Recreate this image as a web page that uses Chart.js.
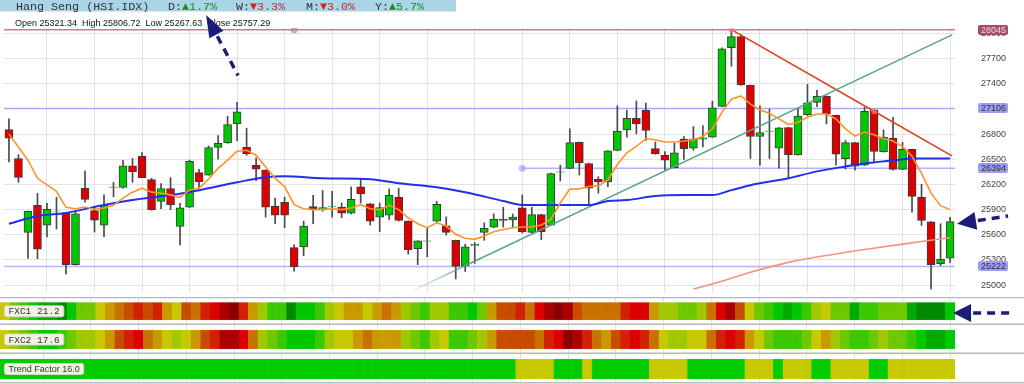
<!DOCTYPE html>
<html>
<head>
<meta charset="utf-8">
<script src="https://cdn.jsdelivr.net/npm/chart.js@4.4.1/dist/chart.umd.min.js"></script>
<style>
  html, body { margin: 0; padding: 0; background: #fff; }
  #wrap { position: relative; width: 1024px; height: 384px; overflow: hidden; }
  #main { position: absolute; left: 0; top: 0; }
  #strip { position: absolute; left: 0; top: 297px; }
</style>
</head>
<body>
<div id="wrap">
  <canvas id="main" width="1024" height="297"></canvas>
  <canvas id="strip" width="1024" height="87"></canvas>
</div>
<script>
/*
        Hang Seng daily candles with moving averages, trend lines,
    support / resistance levels and the FXC1 / FXC2 / Trend Factor strips.
*/

// Daily candles, oldest first
const opens = [26855, 26509, 25628, 25951, 25716, 25880, 25857, 25244, 26155, 25888,
    25716, 26165, 26164, 26423, 26536, 26258, 25999, 26152, 25699, 25928,
    26341, 26312, 26642, 26694, 26922, 26642, 26430, 26371, 25943, 25987,
    25448, 25456, 25935, 25900, 25933, 25931, 25857, 26171, 25970, 25810,
    25834, 26049, 25763, 25433, 25525, 25763, 25707, 25534, 25228, 25472,
    25628, 25692, 25786, 25778, 25920, 25628, 25841, 25716, 26346, 26391,
    26701, 26450, 26262, 26230, 26607, 26851, 26989, 27083, 26627, 26548,
    26399, 26741, 26631, 26741, 26765, 27130, 27830, 27963, 27382, 26772,
    26831, 26631, 26878, 26553, 27031, 27178, 27252, 27024, 26506, 26698,
    26430, 27090, 26588, 26753, 26379, 26619, 26049, 25755, 25256, 25321];
const highs = [26981, 26556, 25884, 26093, 25975, 26046, 25861, 25881, 26359, 25935,
    26076, 26226, 26489, 26509, 26580, 26273, 26211, 26282, 25975, 26489,
    26379, 26659, 26784, 27013, 27178, 26871, 26517, 26375, 26038, 26049,
    25480, 25763, 26069, 26128, 26117, 25979, 26171, 26262, 25975, 25979,
    26147, 26155, 25767, 25530, 25684, 25999, 25814, 25537, 25487, 25507,
    25743, 25849, 25928, 25849, 26076, 25928, 25845, 26336, 26430, 26863,
    26705, 26454, 26293, 26603, 27138, 27087, 27196, 27169, 26706, 26592,
    26694, 26772, 26890, 26902, 27193, 27830, 28045, 27983, 27385, 27138,
    27099, 26878, 26881, 27110, 27393, 27323, 27255, 27027, 26725, 26701,
    27119, 27093, 26851, 27001, 26701, 26622, 26203, 25758, 25731, 25807];
const lows = [26470, 26226, 25318, 25315, 25574, 25668, 25133, 25240, 25990, 25633,
    25578, 26053, 26155, 26226, 26280, 25893, 25911, 25900, 25480, 25925,
    26155, 26310, 26501, 26690, 26721, 26548, 26246, 25810, 25731, 25684,
    25165, 25350, 25731, 25881, 25810, 25802, 25849, 25979, 25716, 25637,
    25782, 25763, 25369, 25244, 25338, 25751, 25598, 25074, 25162, 25259,
    25534, 25684, 25692, 25692, 25621, 25621, 25542, 25712, 26241, 26388,
    26312, 25947, 26096, 26175, 26600, 26765, 26804, 26725, 26560, 26371,
    26396, 26497, 26607, 26647, 26762, 27127, 27609, 27380, 26509, 26427,
    26509, 26395, 26285, 26550, 27016, 27126, 26922, 26430, 26383, 26371,
    26427, 26470, 26585, 26371, 26376, 25869, 25711, 24956, 25232, 25268];
const closes = [26753, 26285, 25881, 25428, 25904, 25884, 25244, 25849, 26022, 25775,
    25951, 26169, 26423, 26352, 26282, 25900, 26152, 25959, 25920, 26477,
    26234, 26639, 26690, 26914, 27067, 26568, 26383, 25928, 25834, 25834,
    25220, 25704, 25904, 25923, 25937, 25857, 26022, 26088, 25763, 25923,
    26069, 25770, 25424, 25527, 25529, 25963, 25628, 25224, 25456, 25487,
    25676, 25786, 25770, 25810, 25637, 25841, 25637, 26329, 26350, 26698,
    26458, 26155, 26230, 26600, 26836, 26989, 26922, 26843, 26568, 26489,
    26576, 26627, 26741, 26757, 27114, 27818, 27963, 27385, 26772, 26819,
    26835, 26875, 26556, 27016, 27173, 27252, 27040, 26560, 26698, 26418,
    27072, 26595, 26765, 26379, 26619, 26058, 25770, 25244, 25310, 25757];

// Short moving average (orange), one value per candle
const maFast = [26800, 26647, 26489, 26273, 26194, 26117, 25928, 25911, 25931, 25904,
    25920, 25951, 26038, 26108, 26155, 26108, 26096, 26076, 26046, 26135,
    26155, 26265, 26391, 26489, 26595, 26607, 26548, 26411, 26273, 26175,
    25959, 25911, 25900, 25900, 25911, 25900, 25920, 25959, 25911, 25900,
    25951, 25900, 25802, 25731, 25684, 25743, 25704, 25605, 25558, 25546,
    25586, 25637, 25664, 25684, 25692, 25692, 25716, 25782, 25979, 26144,
    26147, 26175, 26183, 26253, 26438, 26576, 26654, 26745, 26733, 26706,
    26706, 26718, 26733, 26772, 26863, 27060, 27217, 27255, 27158, 27087,
    27048, 26981, 26914, 26942, 27001, 27040, 27040, 26981, 26863, 26777,
    26824, 26792, 26745, 26718, 26654, 26536, 26332, 26096, 25947, 25900];

// Long moving average (blue), read at these candles
const maSlowAt = [0, 3, 6, 10, 13, 17, 20, 24, 27, 29, 33, 38, 41, 45, 48, 52, 54,
    57, 61, 63, 65, 68, 71, 74, 76, 78, 82, 85, 88, 90, 93, 95, 99];
const maSlow = [25731, 25825, 25861, 25955, 26014, 26073, 26132, 26226, 26285, 26297,
    26273, 26262, 26214, 26167, 26108, 26002, 25955, 25955, 25955, 26002,
    26014, 26061, 26073, 26073, 26132, 26191, 26273, 26356, 26415, 26450,
    26486, 26509, 26509];

// Very long moving average (salmon)
const maLongAt = [72, 75, 78, 82, 86, 90, 94, 99];
const maLong = [24953, 25047, 25153, 25271, 25354, 25424, 25489, 25566];

// Trend lines: [candle, price] along each line
const supportLine = [[42.6, 24941], [99.2, 27983]];
const resistLine = [[76, 28045], [91, 27072], [99.2, 26540]];

// Horizontal levels, the candle where each starts (null = left edge) and its marker
const levels = [28045, 27106, 26394, 25222];
const levelFrom = [null, null, 54, null];
const levelDot = [30, null, 54, null];

// Indicator strips: colour step per candle (0 = strongest green ... 13 = deepest red)
const fxc1 = [6, 4, 3, 2, 1, 1, 0, 2, 4, 4, 6, 7, 8, 9, 10, 9, 10, 7, 6, 9,
    8, 10, 11, 12, 13, 10, 7, 5, 3, 3, 0, 2, 2, 3, 5, 6, 7, 7, 6, 7,
    8, 7, 5, 4, 3, 5, 5, 3, 3, 2, 4, 7, 9, 9, 10, 8, 11, 12, 13, 12,
    9, 8, 8, 8, 8, 10, 11, 11, 7, 5, 5, 4, 4, 5, 8, 11, 12, 9, 6, 4,
    3, 2, 1, 2, 3, 5, 6, 4, 4, 1, 3, 3, 4, 4, 4, 1, 0, 0, 0, 2];
const fxc2 = [6, 5, 4, 3, 2, 2, 3, 4, 5, 5, 6, 7, 9, 10, 11, 8, 7, 6, 5, 6,
    7, 9, 10, 12, 12, 11, 8, 5, 4, 3, 2, 2, 2, 3, 5, 6, 6, 7, 8, 7,
    7, 7, 5, 4, 3, 5, 6, 3, 3, 4, 5, 7, 9, 9, 9, 9, 8, 10, 11, 13,
    12, 10, 8, 7, 9, 10, 11, 10, 8, 6, 5, 5, 6, 6, 8, 10, 11, 10, 7, 6,
    4, 3, 3, 3, 4, 6, 7, 5, 4, 3, 3, 4, 5, 4, 4, 3, 2, 1, 1, 2];
// Trend factor: 1 = trending (green), 0 = neutral (yellow)
const trend = [1, 1, 1, 1, 1, 1, 1, 1, 1, 1, 1, 1, 1, 1, 1, 1, 1, 1, 1, 1,
    1, 1, 1, 1, 1, 1, 1, 1, 1, 1, 1, 1, 1, 1, 1, 1, 1, 1, 1, 1,
    1, 1, 1, 1, 1, 1, 1, 1, 1, 1, 1, 1, 1, 1, 0, 0, 0, 0, 1, 1,
    1, 0, 1, 1, 1, 1, 1, 1, 0, 0, 0, 0, 1, 1, 1, 1, 1, 1, 0, 0,
    0, 1, 0, 0, 0, 1, 1, 0, 0, 0, 0, 1, 1, 0, 0, 0, 0, 0, 0, 0];

const stripNames = ["FXC1 21.2", "FXC2 17.6", "Trend Factor 16.0"];
const yTicks = [25000, 25300, 25600, 25900, 26200, 26500, 26800, 27100, 27400, 27700, 28000];
const xGrid = [4, 9, 14, 19, 24, 29, 34, 39, 44, 49, 54, 59, 64, 69, 74, 79, 84, 89, 94, 99];

const headTitle = "Hang Seng (HSI.IDX)";
const headChanges = [["D:", "\u25B21.7%", true], ["W:", "\u25BC3.3%", false],
    ["M:", "\u25BC3.0%", false], ["Y:", "\u25B25.7%", true]];
const ohlcText = "Open 25321.34  High 25806.72  Low 25267.63  Close 25757.29";


// Look
const UP = "#00c800";
const DOWN = "#dc0000";
const EDGE = "#3a3a3a";
const GRID = "#e2e2e8";
const NAVY = "#1c1c7a";
const steps = ["#008a00", "#00aa00", "#00c800", "#3cc800", "#6ec800", "#a0c800", "#c8c800",
    "#c89a00", "#c87000", "#c84c00", "#d22000", "#dc0000", "#aa0000", "#8a0000"];
const xMin = -0.52;
const xMax = 99.52;

function xScale() {
    return {
        type: "linear",
        min: xMin,
        max: xMax,
        offset: false,
        grid: { color: GRID, drawTicks: false, offset: false },
        border: { display: false },
        ticks: { display: false },
        afterBuildTicks: (s) => { s.ticks = xGrid.map((v) => ({ value: v })); },
    };
}

// Right axis keeps a fixed width and adds no extra padding above / below the plot
function fixRightAxis(s) {
    s.width = 69;
    s.paddingTop = 0;
    s.paddingBottom = 0;
}

function drawArrow(ctx, tip, tail, headLen, headHalf) {
    const dx = tail[0] - tip[0];
    const dy = tail[1] - tip[1];
    const len = Math.hypot(dx, dy);
    const ux = dx / len, uy = dy / len;
    const bx = tip[0] + ux * headLen, by = tip[1] + uy * headLen;

    ctx.save();
    ctx.fillStyle = NAVY;
    ctx.strokeStyle = NAVY;
    ctx.beginPath();
    ctx.moveTo(tip[0], tip[1]);
    ctx.lineTo(bx - uy * headHalf, by + ux * headHalf);
    ctx.lineTo(bx + uy * headHalf, by - ux * headHalf);
    ctx.closePath();
    ctx.fill();
    ctx.lineWidth = 3.5;
    ctx.setLineDash([8, 6]);
    ctx.beginPath();
    ctx.moveTo(bx + ux * 2, by + uy * 2);
    ctx.lineTo(tail[0], tail[1]);
    ctx.stroke();
    ctx.restore();
}


/*
        Main price chart
*/

const bodyData = opens.map((o, i) => ({ x: i, y: [o, closes[i]] }));
const wickData = opens.map((o, i) => ({ x: i, y: [lows[i], highs[i]] }));
const bodyColors = opens.map((o, i) => (closes[i] >= o ? UP : DOWN));

const levelSets = levels.map((lv, k) => {
    const pts = [{ x: levelFrom[k] === null ? xMin : levelFrom[k], y: lv }];
    if (levelDot[k] !== null && levelDot[k] !== levelFrom[k]) pts.push({ x: levelDot[k], y: lv });
    pts.push({ x: xMax, y: lv });
    pts.sort((a, b) => a.x - b.x);
    return {
        type: "line",
        data: pts,
        borderColor: k === 0 ? "rgba(176,80,112,0.75)" : "rgba(130,130,250,0.6)",
        borderWidth: 1.5,
        pointRadius: pts.map((p) => (p.x === levelDot[k] ? 3.5 : 0)),
        pointBackgroundColor: k === 0 ? "rgba(150,150,150,0.7)" : "rgba(150,150,250,0.6)",
        pointBorderWidth: 0,
        order: 5,
    };
});

const mainOverlay = {
    id: "mainOverlay",
    afterDraw(chart) {
        const ctx = chart.ctx;
        const xs = chart.scales.x;
        const ys = chart.scales.y;
        const area = chart.chartArea;

        // Header band
        ctx.save();
        ctx.fillStyle = "#a9d5e6";
        ctx.fillRect(0, 0, 456, 11.5);
        ctx.font = "11.7px 'Liberation Mono', monospace";
        ctx.textBaseline = "alphabetic";
        ctx.fillStyle = "#333";
        ctx.fillText(headTitle, 16, 10);
        const headX = [168, 236, 306, 375];
        headChanges.forEach((h, k) => {
            ctx.fillStyle = "#333";
            ctx.fillText(h[0], headX[k], 10);
            ctx.fillStyle = h[2] ? "#1e8c1e" : "#c82828";
            ctx.fillText(h[1], headX[k] + ctx.measureText(h[0]).width, 10);
        });

        ctx.font = "9px 'Liberation Sans', Arial, sans-serif";
        ctx.fillStyle = "#111";
        ctx.fillText(ohlcText, 15, 25.5);

        // Level tags on the price axis
        ctx.font = "9px 'Liberation Sans', Arial, sans-serif";
        ctx.textBaseline = "middle";
        levels.forEach((lv, k) => {
            const y = Math.round(ys.getPixelForValue(lv));
            ctx.fillStyle = k === 0 ? "#a84a6c" : "#9c9cf2";
            ctx.beginPath();
            ctx.roundRect(area.right + 23, y - 5, 30, 10, 2);
            ctx.fill();
            ctx.fillStyle = k === 0 ? "#e8d8de" : "#333";
            ctx.fillText(String(lv), area.right + 26, y + 0.5);
        });
        ctx.restore();

        // Annotation arrows
        const px = (p) => [xs.getPixelForValue(p[0]), ys.getPixelForValue(p[1])];
        drawArrow(ctx, px([20.74, 28219]), px([24.1, 27499]), 22, 8);
        drawArrow(ctx, px([99.74, 25731]), px([105.1, 25825]), 19, 9);
    },
};

new Chart(document.getElementById("main").getContext("2d"), {
    type: "bar",
    data: {
        datasets: [
            {
                type: "line",
                data: maFast.map((v, i) => ({ x: i, y: v })),
                borderColor: "#ff9328",
                borderWidth: 1.6,
                pointRadius: 0,
                order: 0,
            },
            {
                type: "line",
                data: maSlowAt.map((i, k) => ({ x: i, y: maSlow[k] })),
                borderColor: "#2030e8",
                borderWidth: 2,
                pointRadius: 0,
                cubicInterpolationMode: "monotone",
                order: 0,
            },
            {
                type: "line",
                data: maLongAt.map((i, k) => ({ x: i, y: maLong[k] })),
                borderColor: "#f59282",
                borderWidth: 1.6,
                pointRadius: 0,
                cubicInterpolationMode: "monotone",
                order: 0,
            },
            {
                type: "line",
                data: supportLine.map((p) => ({ x: p[0], y: p[1] })),
                borderColor: (c) => {
                    const a = c.chart.chartArea;
                    if (!a) return "#5aa58a";
                    const xs = c.chart.scales.x;
                    const g = c.chart.ctx.createLinearGradient(xs.getPixelForValue(42.6), 0, xs.getPixelForValue(49), 0);
                    g.addColorStop(0, "rgba(90,165,138,0.1)");
                    g.addColorStop(1, "rgba(90,165,138,1)");
                    return g;
                },
                borderWidth: 1.6,
                pointRadius: 0,
                order: 0,
            },
            {
                type: "line",
                data: resistLine.map((p) => ({ x: p[0], y: p[1] })),
                borderColor: "#e2401c",
                borderWidth: 1.6,
                pointRadius: [3, 3, 0],
                pointBackgroundColor: "rgba(240,140,130,0.6)",
                pointBorderWidth: 0,
                order: 0,
            },
            {
                data: bodyData,
                backgroundColor: bodyColors,
                borderColor: EDGE,
                borderWidth: 1,
                borderSkipped: false,
                barThickness: 8,
                grouped: false,
                order: 1,
            },
            {
                data: wickData,
                backgroundColor: "#4a4a4a",
                borderWidth: 0,
                barThickness: 1,
                grouped: false,
                order: 2,
            },
            ...levelSets,
        ],
    },
    options: {
        responsive: false,
        animation: false,
        devicePixelRatio: 1,
        layout: { padding: { top: 28, bottom: 1, left: 0, right: 0 } },
        plugins: { legend: { display: false }, tooltip: { enabled: false } },
        scales: {
            x: xScale(),
            y: {
                type: "linear",
                position: "right",
                min: 24906,
                max: 28065,
                grid: { color: GRID, drawTicks: false },
                border: { display: false },
                ticks: {
                    padding: 26,
                    color: "#444",
                    font: { family: "'Liberation Sans', Arial, sans-serif", size: 9 },
                    callback: (v) => String(v),
                },
                afterBuildTicks: (s) => { s.ticks = yTicks.map((v) => ({ value: v })); },
                afterFit: fixRightAxis,
            },
        },
    },
    plugins: [mainOverlay],
});


/*
        Indicator strips below the price chart
*/

const rows = [[5.7, 23], [33, 52], [62, 82]];
const separators = [0.5, 27.3, 56.3, 85.7];

const stripOverlay = {
    id: "stripOverlay",
    afterDraw(chart) {
        const ctx = chart.ctx;
        const xs = chart.scales.x;
        const ys = chart.scales.y;

        ctx.save();
        ctx.strokeStyle = "#b8b8b8";
        ctx.lineWidth = 1.5;
        separators.forEach((s) => {
            const y = ys.getPixelForValue(s);
            ctx.beginPath();
            ctx.moveTo(0, y);
            ctx.lineTo(chart.width, y);
            ctx.stroke();
        });

        stripNames.forEach((name, k) => {
            const mid = ys.getPixelForValue((rows[k][0] + rows[k][1]) / 2);
            ctx.font = k < 2 ? "9.5px 'Liberation Mono', monospace" : "9px 'Liberation Sans', Arial, sans-serif";
            const w = ctx.measureText(name).width + 8;
            ctx.fillStyle = "#f3f1e3";
            ctx.strokeStyle = "#d6d6c6";
            ctx.lineWidth = 1;
            ctx.beginPath();
            ctx.roundRect(4.5, mid - 5.5, w, 11, 2);
            ctx.fill();
            ctx.stroke();
            ctx.fillStyle = "#333";
            ctx.textBaseline = "middle";
            ctx.fillText(name, 8.5, mid + 0.5);
        });
        ctx.restore();

        drawArrow(ctx, [xs.getPixelForValue(99.32), ys.getPixelForValue(16)],
            [xs.getPixelForValue(105.7), ys.getPixelForValue(16)], 18, 9);
    },
};

function stripSet(values, row, colorOf) {
    return {
        data: values.map((v, i) => ({ x: i, y: row })),
        backgroundColor: values.map(colorOf),
        borderColor: values.map(colorOf),
        borderWidth: 0.5,
        borderSkipped: false,
        barPercentage: 1,
        categoryPercentage: 1,
        grouped: false,
    };
}

new Chart(document.getElementById("strip").getContext("2d"), {
    type: "bar",
    data: {
        datasets: [
            stripSet(fxc1, rows[0], (v) => steps[v]),
            stripSet(fxc2, rows[1], (v) => steps[v]),
            stripSet(trend, rows[2], (v) => (v ? "#00cc00" : "#c8c800")),
        ],
    },
    options: {
        responsive: false,
        animation: false,
        devicePixelRatio: 1,
        layout: { padding: 0 },
        plugins: { legend: { display: false }, tooltip: { enabled: false } },
        scales: {
            x: xScale(),
            y: {
                type: "linear",
                position: "right",
                min: 0,
                max: 87,
                reverse: true,
                grid: { display: false },
                border: { display: false },
                ticks: { display: false },
                afterFit: fixRightAxis,
            },
        },
    },
    plugins: [stripOverlay],
});
</script>
</body>
</html>
